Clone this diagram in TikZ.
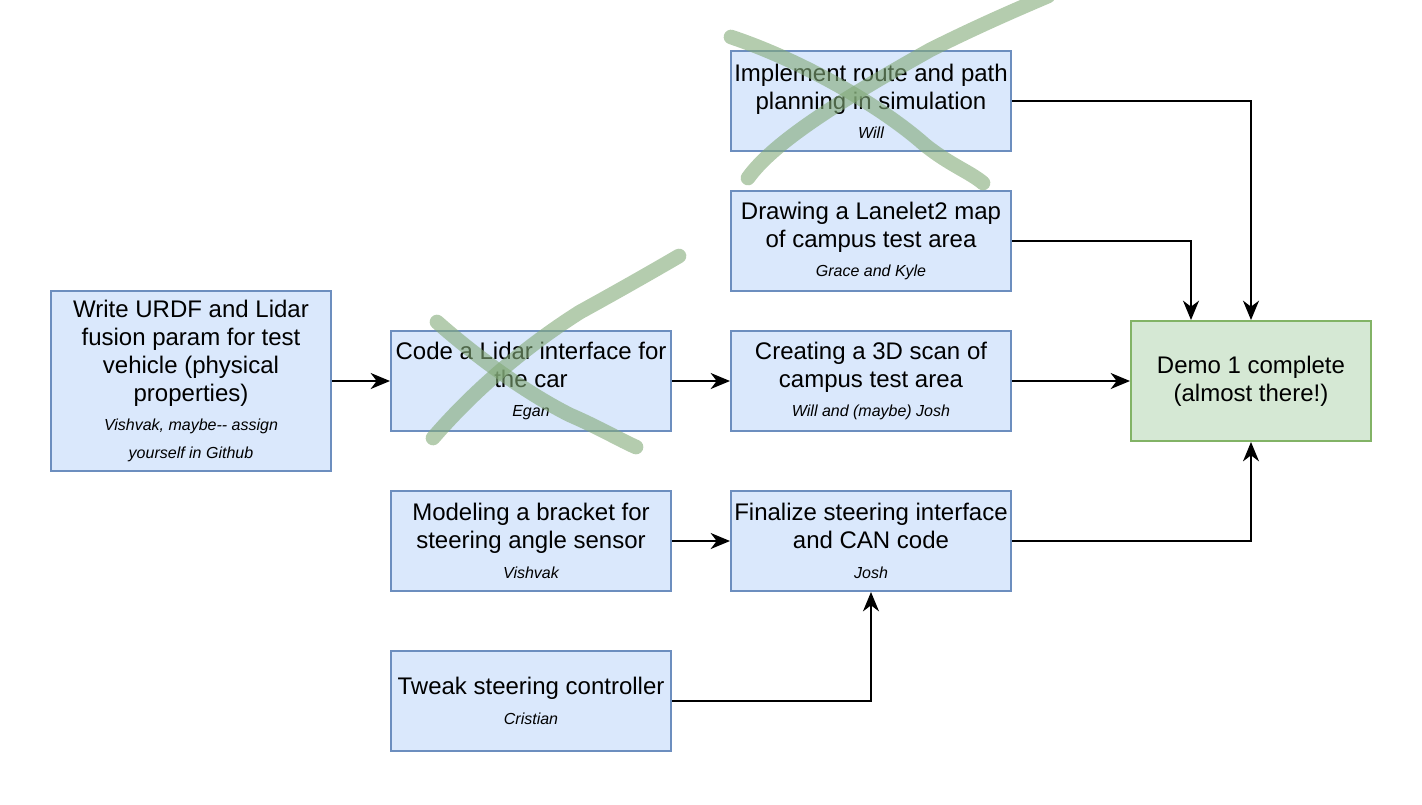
\documentclass[tikz,border=0pt]{standalone}
\usepackage{fontspec}
\setmainfont{Liberation Sans}
\usetikzlibrary{arrows.meta}
\usetikzlibrary{positioning}

\definecolor{taskfill}{HTML}{DAE8FC}
\definecolor{taskline}{HTML}{6C8EBF}
\definecolor{donefill}{HTML}{D5E8D4}
\definecolor{doneline}{HTML}{82B366}
\definecolor{scribble}{RGB}{130,170,120}

\newcommand{\who}[1]{{\fontsize{12}{21}\selectfont\itshape #1}}

\begin{document}
\begin{tikzpicture}[x=0.75pt,y=-0.75pt,
    task/.style={draw=taskline,fill=taskfill,line width=1.5pt,minimum width=210pt,minimum height=75pt,
      align=center,inner sep=0pt,font=\fontsize{18}{21}\selectfont},
    goal/.style={task,draw=doneline,fill=donefill,minimum width=180pt,minimum height=90pt},
    link/.style={line width=1.5pt,-{Stealth[length=14.5pt,width=12pt,inset=4.5pt]}},
    crossout/.style={draw=scribble,line width=11pt,line cap=round,line join=round,opacity=0.6}]
    \useasboundingbox (0,0) rectangle (1422,804);

    \node[task] (route) at (871,101) {Implement route and path\\planning in simulation\\[1pt]\who{Will}};
    \node[task] (lanelet) at (871,241) {Drawing a Lanelet2 map\\of campus test area\\[1pt]\who{Grace and Kyle}};
    \node[task,minimum height=135pt] (urdf) at (191,381) {Write URDF and Lidar\\fusion param for test\\vehicle (physical\\properties)\\[1pt]\who{Vishvak, maybe-{}- assign}\\\who{yourself in Github}};
    \node[task] (lidar) at (531,381) {Code a Lidar interface for\\the car\\[1pt]\who{Egan}};
    \node[task] (scan) at (871,381) {Creating a 3D scan of\\campus test area\\[1pt]\who{Will and (maybe) Josh}};
    \node[goal] (demo) at (1251,381) {Demo 1 complete\\(almost there!)};
    \node[task] (bracket) at (531,541) {Modeling a bracket for\\steering angle sensor\\[1pt]\who{Vishvak}};
    \node[task] (steer) at (871,541) {Finalize steering interface\\and CAN code\\[1pt]\who{Josh}};
    \node[task] (tweak) at (531,701) {Tweak steering controller\\[1pt]\who{Cristian}};

    \draw[link] (urdf) -- (lidar);
    \draw[link] (lidar) -- (scan);
    \draw[link] (scan) -- (demo);
    \draw[link] (route) -| (demo);
    \draw[link] (lanelet) -| ([xshift=-45pt]demo.north);
    \draw[link] (bracket) -- (steer);
    \draw[link] (steer) -| (demo);
    \draw[link] (tweak) -| (steer);

    % struck out tasks
    \draw[crossout] (731,37) .. controls (800,60) and (880,105) .. (925,145) .. controls (950,165) and (970,172) .. (983,183);
    \draw[crossout] (748,178) .. controls (775,140) and (850,95) .. (930,50) .. controls (980,25) and (1020,8) .. (1048,-4);
    \draw[crossout] (437,322) .. controls (480,360) and (530,395) .. (570,415) .. controls (600,428) and (620,440) .. (636,447);
    \draw[crossout] (433,438) .. controls (470,395) and (520,350) .. (580,312) .. controls (620,290) and (655,270) .. (679,256);
\end{tikzpicture}
\end{document}
